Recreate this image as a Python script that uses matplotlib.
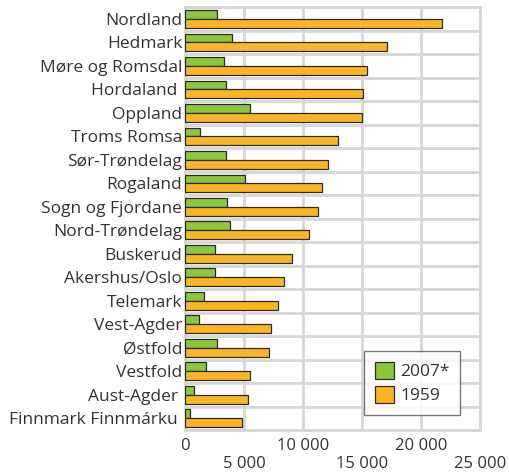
import matplotlib
matplotlib.use("Agg")
import matplotlib.pyplot as plt
import numpy as np

categories = ["Nordland", "Hedmark", "Møre og Romsdal", "Hordaland ", "Oppland",
              "Troms Romsa", "Sør-Trøndelag", "Rogaland", "Sogn og Fjordane",
              "Nord-Trøndelag", "Buskerud", "Akershus/Oslo", "Telemark",
              "Vest-Agder", "Østfold", "Vestfold", "Aust-Agder ", "Finnmark Finnmárku "]
values_2007 = [2700, 4000, 3350, 3450, 5500, 1300, 3450, 5050, 3600, 3800,
               2550, 2550, 1650, 1200, 2700, 1750, 750, 400]
values_1959 = [21750, 17150, 15450, 15050, 15000, 13000, 12150, 11650, 11300, 10550,
               9050, 8400, 7900, 7250, 7100, 5550, 5300, 4800]
series_names = ["2007*", "1959"]
major_ticks = [0, 10000, 20000]
minor_ticks = [5000, 15000, 25000]

def fmt(v):
    return f"{v:,}".replace(",", " ")

plt.rcParams['font.family'] = ['Open Sans', 'DejaVu Sans']
text_color = "#333333"
green = "#8cc63e"
orange = "#fbb625"
grid_color = "#d6d6d6"

fig = plt.figure(figsize=(5.10, 4.74), dpi=100)
ax = fig.add_axes([0.3627, 0.0928, 0.941 - 0.3627, 0.985 - 0.0928])

y = np.arange(len(categories))
h = 0.37
ax.barh(y - 0.19, values_2007, height=h, color=green, edgecolor="#2b2b2b", linewidth=0.9,
        label=series_names[0], zorder=3)
ax.barh(y + 0.19, values_1959, height=h, color=orange, edgecolor="#2b2b2b", linewidth=0.9,
        label=series_names[1], zorder=3)

ax.set_ylim(len(categories) - 0.5, -0.5)
ax.set_xlim(0, 25000)

ax.set_yticks(y)
ax.set_yticklabels(categories, fontsize=12.5, color=text_color)
ax.set_yticks(np.arange(-0.5, len(categories), 1), minor=True)

ax.set_xticks(major_ticks)
ax.set_xticklabels([fmt(v) for v in major_ticks], fontsize=12, color=text_color)
ax.set_xticks(minor_ticks, minor=True)
ax.set_xticklabels([fmt(v) for v in minor_ticks], minor=True, fontsize=12, color=text_color)

ax.tick_params(axis="x", which="major", length=0, pad=6)
ax.tick_params(axis="x", which="minor", length=0, pad=19)
ax.tick_params(axis="y", which="both", length=0, pad=2)

ax.grid(True, which="both", axis="both", color=grid_color, linewidth=2, zorder=0)
ax.grid(False, which="major", axis="y")
ax.set_axisbelow(True)

for s in ax.spines.values():
    s.set_color(grid_color)
    s.set_linewidth(2)

leg = ax.legend(loc="lower right", bbox_to_anchor=(0.932, 0.036), fontsize=12.5,
                frameon=True, fancybox=False, edgecolor="#555555",
                handlelength=1.1, handleheight=1.2, handletextpad=0.35,
                borderpad=0.6, labelspacing=0.3, borderaxespad=0)
leg.get_frame().set_linewidth(1.0)
for t in leg.get_texts():
    t.set_color(text_color)

fig.savefig("out.png", dpi=100)
